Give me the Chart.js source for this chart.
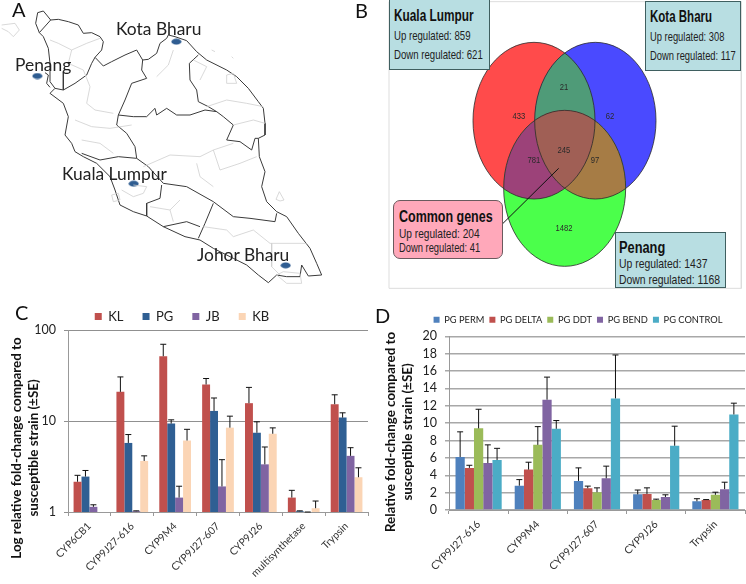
<!DOCTYPE html>
<html>
<head>
<meta charset="utf-8">
<script src="https://cdn.jsdelivr.net/npm/chart.js@4/dist/chart.umd.js"></script>
<style>
html, body { margin: 0; padding: 0; background: #fff; }
body { position: relative; width: 746px; height: 584px; overflow: hidden; font-family: Lato, sans-serif; }
canvas { position: absolute; }
.t { position: absolute; white-space: nowrap; line-height: 1; }
.letter { font-size: 20px; color: #111; }
.city { font-size: 17.4px; color: #222; }
.ytitle { position: absolute; white-space: nowrap; line-height: 1; font-weight: bold; font-size: 13.4px; color: #111; transform: translate(-50%, -50%) rotate(-90deg); }
.box { position: absolute; box-sizing: border-box; background: #b8dee2; border: 1px solid #3f5f60; font-family: "Liberation Sans", sans-serif; color: #222; }
.box b { position: absolute; font-size: 16px; white-space: nowrap; color: #111; transform: scaleX(var(--sx)); transform-origin: 0 50%; }
.box span { position: absolute; font-size: 13px; white-space: nowrap; transform: scaleX(var(--sx)); transform-origin: 0 50%; }
.n { position: absolute; font-family: "Liberation Sans", sans-serif; font-size: 9px; color: #2a2a2a; transform: translate(-50%, -50%) scaleX(0.85); }
</style>
</head>
<body>
<canvas id="map" width="373" height="295" style="left:0;top:0"></canvas>
<canvas id="venn" width="373" height="295" style="left:373px;top:0"></canvas>
<canvas id="chartC" width="373" height="289" style="left:0;top:295px"></canvas>
<canvas id="chartD" width="373" height="289" style="left:373px;top:295px"></canvas>

<div class="t letter" style="left:12px;top:-1px">A</div>
<div class="t letter" style="left:355px;top:0">B</div>
<div class="t letter" style="left:15px;top:302px">C</div>
<div class="t letter" style="left:375px;top:305px">D</div>

<div class="t city" style="left:116px;top:20px">Kota Bharu</div>
<div class="t city" style="left:15px;top:56px">Penang</div>
<div class="t city" style="left:62px;top:165px">Kuala Lumpur</div>
<div class="t city" style="left:197px;top:246px">Johor Bharu</div>

<div class="ytitle" style="left:17px;top:448px">Log relative fold-change compared to</div>
<div class="ytitle" style="left:34px;top:448px">susceptible strain (±SE)</div>
<div class="ytitle" style="left:391px;top:432px">Relative fold-change compared to</div>
<div class="ytitle" style="left:408px;top:432px">susceptible strain (±SE)</div>

<div class="box" style="left:389px;top:-1px;width:101px;height:71px;--sx:0.74">
  <b style="left:4px;top:7px">Kuala Lumpur</b><span style="left:4px;top:28px">Up regulated: 859</span><span style="left:4px;top:47px">Down regulated: 621</span>
</div>
<div class="box" style="left:645px;top:1px;width:96px;height:70px;--sx:0.72">
  <b style="left:4px;top:6px">Kota Bharu</b><span style="left:4px;top:27px">Up regulated: 308</span><span style="left:4px;top:46px">Down regulated: 117</span>
</div>
<div class="box" style="left:615px;top:232px;width:111px;height:56px;--sx:0.8">
  <b style="left:3px;top:6px">Penang</b><span style="left:3px;top:23px">Up regulated: 1437</span><span style="left:3px;top:39px">Down regulated: 1168</span>
</div>
<div class="box" style="left:393px;top:200px;width:110px;height:59px;background:#ffa8ba;border-radius:7px;border-color:#6a5a5e;--sx:0.78">
  <b style="left:5px;top:7px">Common genes</b><span style="left:5px;top:25px">Up regulated: 204</span><span style="left:5px;top:40px;font-size:12px">Down regulated: 41</span>
</div>

<div class="n" style="left:564px;top:87px">21</div>
<div class="n" style="left:519px;top:116px">433</div>
<div class="n" style="left:610px;top:116px">62</div>
<div class="n" style="left:564px;top:150px">245</div>
<div class="n" style="left:534px;top:160px">781</div>
<div class="n" style="left:595px;top:160px">97</div>
<div class="n" style="left:564px;top:228px">1482</div>

<script>
// panel C
var genesC = ['CYP6CB1', 'CYP9J27-616', 'CYP9M4', 'CYP9J27-607', 'CYP9J26', 'multisynthetase', 'Trypsin'];
var kl = [2.15, 20.9, 51.5, 25.2, 15.7, 1.44, 15.3];
var klErr = [2.53, 30.5, 69.7, 29.3, 23.4, 1.73, 19.4];
var pg = [2.45, 5.74, 9.37, 12.9, 7.43, 1.02, 10.9];
var pgErr = [2.86, 7.1, 10.3, 17.9, 9.8, 1.03, 12.3];
var jb = [1.14, 1.02, 1.44, 1.91, 3.34, 1.0, 4.14];
var jbErr = [1.2, 1.03, 1.92, 3.76, 5.18, 1.0, 5.09];
var kb = [null, 3.64, 6.1, 8.45, 7.24, 1.1, 2.41];
var kbErr = [null, 4.14, 8.1, 11.3, 8.4, 1.32, 3.06];
var ticksC = [1, 10, 100];

// panel D
var genesD = ['CYP9J27-616', 'CYP9M4', 'CYP9J27-607', 'CYP9J26', 'Trypsin'];
var perm = [6.1, 2.8, 3.35, 1.8, 1.0];
var permErr = [9.0, 3.5, 4.85, 2.3, 1.3];
var delta = [4.85, 4.65, 2.5, 1.85, 1.15];
var deltaErr = [5.15, 5.5, 2.75, 2.55, 1.2];
var ddt = [9.4, 7.5, 2.05, 1.15, 1.75];
var ddtErr = [11.6, 9.6, 2.55, 1.25, 2.05];
var bend = [5.4, 12.7, 3.65, 1.5, 2.4];
var bendErr = [7.5, 15.3, 5.05, 1.75, 3.2];
var control = [5.75, 9.35, 12.85, 7.4, 11.0];
var controlErr = [7.1, 10.3, 17.85, 9.65, 12.3];

// panel A, map outlines
var coast = [[113,38],[130,33],[140,45],[152,60],[175,58],[205,65],[235,75],[250,100],[275,98],[300,110],[310,125],[305,150],[285,172],[310,198],[335,185],[375,165],[410,150],[428,180],[445,178],[470,160],[480,130],[500,115],[505,105],[525,110],[560,122],[590,155],[620,180],[680,210],[710,230],[745,265],[775,305],[790,325],[795,370],[795,405],[775,415],[778,470],[795,515],[785,560],[800,605],[830,635],[860,650],[895,700],[930,745],[950,790],[965,825],[925,828],[905,795],[900,830],[860,830],[830,825],[805,848],[775,825],[740,795],[700,775],[640,745],[600,720],[555,710],[490,680],[440,648],[400,635],[360,615],[345,570],[330,530],[290,490],[250,470],[225,455],[215,430],[195,405],[205,350],[190,310],[150,280],[165,265],[150,245],[150,190],[145,145],[130,110],[118,98],[107,70],[113,38]];
var borders = [
  [[118,98],[152,60]],
  [[135,218],[145,225],[140,250],[150,262]],
  [[165,265],[190,270],[225,250],[260,225],[275,190],[285,172]],
  [[190,215],[190,270]],
  [[428,180],[425,210],[440,235],[395,250],[375,300],[355,345],[350,375],[380,400],[405,440],[410,475]],
  [[355,345],[400,350],[440,350],[465,325],[470,345],[500,325],[530,345],[570,345],[615,330],[650,335],[670,350],[700,375],[680,420],[720,425],[755,450],[765,415],[775,415]],
  [[595,165],[568,190],[570,240],[590,270],[595,305],[625,320],[650,335]],
  [[245,460],[300,480],[355,470],[410,475],[445,500],[490,550],[560,560],[640,605],[700,650],[750,655],[825,665],[830,640]],
  [[485,555],[480,595],[440,610],[440,648]],
  [[640,610],[615,670],[595,715]],
  [[490,680],[560,665],[600,680]]
];
var faint = [
  [[150,120],[175,130],[215,150],[260,130],[300,115]],
  [[215,150],[205,190],[250,210],[270,260],[260,310],[285,330],[340,340]],
  [[225,360],[275,380],[330,385],[395,375]],
  [[245,420],[300,430],[340,460]],
  [[520,150],[505,195],[470,230]],
  [[580,180],[620,200],[600,240]],
  [[680,225],[700,220],[710,250],[680,250],[680,225]],
  [[620,320],[680,300],[740,310],[790,320]],
  [[700,375],[760,360],[795,370]],
  [[430,500],[510,465],[600,470],[640,450],[700,430]],
  [[640,450],[660,510],[720,490],[770,470]],
  [[590,490],[600,530],[640,560]],
  [[365,570],[400,590],[430,580],[440,560],[400,555]],
  [[335,585],[355,580],[360,600],[340,605],[335,585]],
  [[450,620],[510,630],[540,600]],
  [[510,630],[520,665]],
  [[610,680],[680,690],[700,710],[760,690],[810,730],[920,730]],
  [[815,730],[815,800],[840,825]],
  [[830,825],[850,815],[900,820],[905,850],[860,850],[830,825]],
  [[5,75],[45,70],[58,90],[40,110],[25,95],[5,85]],
  [[828,598],[838,575],[852,600],[840,603],[828,598]],
  [[635,150],[645,155]],
  [[695,170],[700,175]]
];
var cityDots = [[529,125],[112,228],[401,551],[857,796]];

// panel B, venn ellipses as cx, cy, rx, ry
var vennRed = [483, 362, 183, 235];
var vennBlue = [667, 362, 182, 235];
var vennGreen = [575, 565, 183, 234];
var vennFrame = [[48,5],[1105,5],[1105,865],[48,865],[48,5]];
var leader = [[388,672],[557,505]];

var maxX = 1119;
var maxY = 885;

function hiddenScales() {
  return {
    x: { type: 'linear', display: false, min: 0, max: maxX },
    y: { type: 'linear', display: false, min: 0, max: maxY, reverse: true }
  };
}

function toPoints(list) {
  return list.map(function (p) { return { x: p[0], y: p[1] }; });
}

function lineSet(list, color, width) {
  return { data: toPoints(list), showLine: true, borderColor: color, borderWidth: width, pointRadius: 0, fill: false };
}

var dot = document.createElement('canvas');
dot.width = 11;
dot.height = 7;
var dotCtx = dot.getContext('2d');
dotCtx.fillStyle = '#2f5d91';
dotCtx.beginPath();
dotCtx.ellipse(5.5, 3.5, 5, 3, 0, 0, Math.PI * 2);
dotCtx.fill();

var mapSets = [];
faint.forEach(function (f) { mapSets.push(lineSet(f, '#cfcfcf', 0.8)); });
mapSets.push(lineSet(coast, '#3a3a3a', 1));
borders.forEach(function (b) { mapSets.push(lineSet(b, '#3a3a3a', 1)); });
mapSets.push({ data: toPoints(cityDots), pointStyle: dot, showLine: false });

new Chart(document.getElementById('map'), {
  type: 'scatter',
  data: { datasets: mapSets },
  options: {
    responsive: false,
    animation: false,
    layout: { padding: 0, autoPadding: false },
    plugins: { legend: { display: false }, tooltip: { enabled: false } },
    scales: hiddenScales()
  }
});

var vennPlugin = {
  id: 'vennPlugin',
  beforeDatasetsDraw: function (chart) {
    var ctx = chart.ctx;
    var sx = chart.scales.x;
    var sy = chart.scales.y;
    function path(e) {
      var x = sx.getPixelForValue(e[0]);
      var y = sy.getPixelForValue(e[1]);
      var rx = sx.getPixelForValue(e[0] + e[2]) - x;
      var ry = sy.getPixelForValue(e[1] + e[3]) - y;
      ctx.beginPath();
      ctx.ellipse(x, y, rx, ry, 0, 0, Math.PI * 2);
    }
    function fillShape(e, color) {
      path(e);
      ctx.fillStyle = color;
      ctx.fill();
    }
    function overlap(list, color) {
      ctx.save();
      list.slice(0, -1).forEach(function (e) {
        path(e);
        ctx.clip();
      });
      fillShape(list[list.length - 1], color);
      ctx.restore();
    }
    fillShape(vennRed, '#ff4b4b');
    fillShape(vennBlue, '#4a4aff');
    fillShape(vennGreen, '#4bff4b');
    overlap([vennRed, vennBlue], '#4f9b78');
    overlap([vennRed, vennGreen], '#9c4279');
    overlap([vennBlue, vennGreen], '#a67c45');
    overlap([vennRed, vennBlue, vennGreen], '#a05f55');
    [vennRed, vennBlue, vennGreen].forEach(function (e) {
      path(e);
      ctx.strokeStyle = '#2b2b2b';
      ctx.lineWidth = 0.8;
      ctx.stroke();
    });
  }
};

new Chart(document.getElementById('venn'), {
  type: 'scatter',
  data: {
    datasets: [
      lineSet(vennFrame, '#dddddd', 1),
      lineSet(leader, '#111111', 1)
    ]
  },
  options: {
    responsive: false,
    animation: false,
    layout: { padding: 0, autoPadding: false },
    plugins: { legend: { display: false }, tooltip: { enabled: false } },
    scales: hiddenScales()
  },
  plugins: [vennPlugin]
});

// upper whiskers only, like the excel charts
var errorBars = {
  id: 'errorBars',
  afterDatasetsDraw: function (chart) {
    var ctx = chart.ctx;
    var y = chart.scales.y;
    chart.data.datasets.forEach(function (ds, i) {
      var meta = chart.getDatasetMeta(i);
      ds.errUp.forEach(function (e, k) {
        if (e === null || ds.data[k] === null) return;
        var bar = meta.data[k];
        var top = y.getPixelForValue(e);
        ctx.save();
        ctx.strokeStyle = '#111';
        ctx.lineWidth = 1;
        ctx.beginPath();
        ctx.moveTo(bar.x, bar.y);
        ctx.lineTo(bar.x, top);
        ctx.moveTo(bar.x - 3, top);
        ctx.lineTo(bar.x + 3, top);
        ctx.stroke();
        ctx.restore();
      });
    });
  }
};

// the legend sits off centre in the original
function shiftLegend(dx, dy) {
  return {
    id: 'shiftLegend',
    afterLayout: function (chart) {
      chart.legend.left += dx;
      chart.legend.right += dx;
      chart.legend.top += dy;
      chart.legend.bottom += dy;
    }
  };
}

function barSet(label, values, errs, color, pct) {
  return { label: label, data: values, errUp: errs, backgroundColor: color, barPercentage: 1, categoryPercentage: pct };
}

new Chart(document.getElementById('chartC'), {
  type: 'bar',
  data: {
    labels: genesC,
    datasets: [
      barSet('KL', kl, klErr, '#c0504d', 0.74),
      barSet('PG', pg, pgErr, '#2f5f93', 0.74),
      barSet('JB', jb, jbErr, '#8064a2', 0.74),
      barSet('KB', kb, kbErr, '#fbd5b5', 0.74)
    ]
  },
  options: {
    responsive: false,
    animation: false,
    layout: { padding: { top: -7, right: 5, left: 0, bottom: 0 }, autoPadding: false },
    plugins: {
      tooltip: { enabled: false },
      legend: {
        position: 'top',
        labels: { boxWidth: 7, boxHeight: 7, padding: 19, color: '#222', font: { family: 'Lato', size: 13 } }
      }
    },
    scales: {
      x: {
        afterFit: function (s) { s.height = 72; },
        grid: { drawOnChartArea: false, color: '#999', tickLength: 4 },
        border: { color: '#999' },
        ticks: { minRotation: 45, maxRotation: 45, autoSkip: false, color: '#333', font: { family: 'Lato', size: 10.3 }, padding: 4 }
      },
      y: {
        type: 'logarithmic',
        min: 1,
        max: 100,
        afterBuildTicks: function (s) { s.ticks = ticksC.map(function (v) { return { value: v }; }); },
        afterFit: function (s) { s.width = 68; },
        grid: { color: '#909090', tickLength: 4 },
        border: { color: '#999' },
        ticks: {
          color: '#222',
          font: { family: 'Lato', size: 12.5 },
          padding: 8,
          callback: function (v) { return String(v); }
        }
      }
    }
  },
  plugins: [errorBars, shiftLegend(-2, 3)]
});

new Chart(document.getElementById('chartD'), {
  type: 'bar',
  data: {
    labels: genesD,
    datasets: [
      barSet('PG PERM', perm, permErr, '#4f81bd', 0.78),
      barSet('PG DELTA', delta, deltaErr, '#c0504d', 0.78),
      barSet('PG DDT', ddt, ddtErr, '#9bbb59', 0.78),
      barSet('PG BEND', bend, bendErr, '#8064a2', 0.78),
      barSet('PG CONTROL', control, controlErr, '#4bacc6', 0.78)
    ]
  },
  options: {
    responsive: false,
    animation: false,
    layout: { padding: { top: 17, right: 1, left: 0, bottom: 0 }, autoPadding: false },
    plugins: {
      tooltip: { enabled: false },
      legend: {
        position: 'top',
        labels: { boxWidth: 6, boxHeight: 6, padding: 5, color: '#222', font: { family: 'Lato', size: 9.3 } }
      }
    },
    scales: {
      x: {
        afterFit: function (s) { s.height = 74; },
        grid: { drawOnChartArea: false, color: '#999', tickLength: 4 },
        border: { color: '#999' },
        ticks: { minRotation: 45, maxRotation: 45, autoSkip: false, color: '#333', font: { family: 'Lato', size: 10.5 }, padding: 4 }
      },
      y: {
        min: 0,
        max: 20,
        afterFit: function (s) { s.width = 76; },
        grid: { color: '#a8a8a8', lineWidth: 1.5, tickLength: 4 },
        border: { color: '#999' },
        ticks: { stepSize: 2, autoSkip: false, color: '#222', font: { family: 'Lato', size: 12.5 }, padding: 8 }
      }
    }
  },
  plugins: [errorBars, shiftLegend(19, -2)]
});
</script>
</body>
</html>
